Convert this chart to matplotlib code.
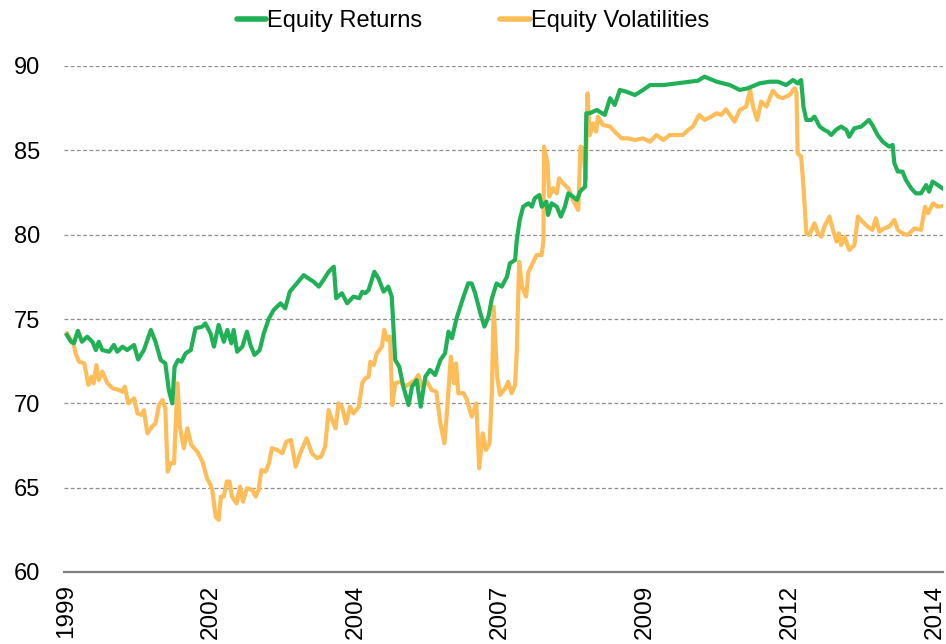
import matplotlib
matplotlib.use("Agg")
import matplotlib.pyplot as plt
from matplotlib.lines import Line2D

# ---- data (decimal years, index values) ----
ret_x = [1999.52, 1999.59, 1999.64, 1999.71, 1999.78, 1999.87, 1999.96, 2000.02, 2000.07, 2000.13,
         2000.25, 2000.33, 2000.39, 2000.48, 2000.56, 2000.68, 2000.75, 2000.85, 2000.97, 2001.05,
         2001.14, 2001.22, 2001.28, 2001.34, 2001.38, 2001.44, 2001.50, 2001.57, 2001.66, 2001.74,
         2001.86, 2001.91, 2002.00, 2002.06, 2002.14, 2002.23, 2002.29, 2002.36, 2002.40, 2002.46,
         2002.55, 2002.63, 2002.69, 2002.76, 2002.85, 2002.92, 2003.01, 2003.09, 2003.21, 2003.29,
         2003.37, 2003.49, 2003.61, 2003.69, 2003.78, 2003.87, 2003.95, 2004.04, 2004.13, 2004.17,
         2004.27, 2004.36, 2004.47, 2004.57, 2004.62, 2004.67, 2004.73, 2004.83, 2004.90, 2004.99,
         2005.07, 2005.13, 2005.19, 2005.26, 2005.33, 2005.42, 2005.48, 2005.56, 2005.63, 2005.71,
         2005.79, 2005.88, 2005.97, 2006.05, 2006.11, 2006.17, 2006.25, 2006.36, 2006.45, 2006.51,
         2006.57, 2006.66, 2006.73, 2006.80, 2006.86, 2006.94, 2007.03, 2007.12, 2007.17, 2007.26,
         2007.29, 2007.34, 2007.40, 2007.49, 2007.55, 2007.60, 2007.68, 2007.72, 2007.80, 2007.83,
         2007.89, 2007.98, 2008.05, 2008.12, 2008.18, 2008.26, 2008.33, 2008.38, 2008.47, 2008.49,
         2008.55, 2008.67, 2008.81, 2008.90, 2008.98, 2009.07, 2009.18, 2009.33, 2009.47, 2009.59,
         2009.82, 2010.05, 2010.28, 2010.42, 2010.53, 2010.74, 2010.97, 2011.14, 2011.28, 2011.48,
         2011.66, 2011.80, 2011.94, 2012.06, 2012.14, 2012.20, 2012.24, 2012.29, 2012.37, 2012.43,
         2012.52, 2012.60, 2012.66, 2012.72, 2012.80, 2012.89, 2012.98, 2013.03, 2013.12, 2013.24,
         2013.37, 2013.43, 2013.52, 2013.61, 2013.72, 2013.78, 2013.81, 2013.87, 2013.95, 2014.01,
         2014.10, 2014.18, 2014.27, 2014.36, 2014.41, 2014.47, 2014.56, 2014.64]
ret_y = [74.05, 73.66, 73.56, 74.30, 73.65, 73.95, 73.65, 73.16, 73.65, 73.16,
         73.06, 73.46, 73.06, 73.36, 73.16, 73.46, 72.60, 73.16, 74.35, 73.65,
         72.57, 72.37, 70.79, 70.00, 72.17, 72.57, 72.47, 72.96, 73.16, 74.45,
         74.55, 74.74, 74.15, 73.36, 74.65, 73.65, 74.35, 73.56, 74.35, 73.06,
         73.36, 74.25, 73.46, 72.87, 73.16, 74.15, 75.04, 75.53, 75.93, 75.63,
         76.62, 77.11, 77.60, 77.41, 77.21, 76.92, 77.31, 77.80, 78.10, 76.23,
         76.53, 75.93, 76.33, 76.23, 76.62, 76.53, 76.72, 77.80, 77.41, 76.62,
         76.92, 76.33, 72.57, 72.17, 70.99, 69.90, 70.99, 71.38, 69.80, 71.58,
         71.98, 71.68, 72.57, 72.96, 74.25, 73.86, 75.04, 76.23, 77.11, 77.11,
         76.53, 75.34, 74.55, 75.14, 76.23, 77.11, 76.92, 77.51, 78.30, 78.50,
         79.68, 80.87, 81.66, 81.86, 81.66, 82.16, 82.35, 81.66, 81.96, 81.17,
         81.86, 81.66, 81.07, 81.66, 82.45, 82.25, 82.06, 82.55, 82.85, 87.20,
         87.20, 87.39, 87.10, 88.09, 87.69, 88.58, 88.48, 88.28, 88.58, 88.87,
         88.87, 88.97, 89.07, 89.13, 89.37, 89.07, 88.87, 88.58, 88.68, 88.97,
         89.07, 89.07, 88.87, 89.17, 88.97, 89.17, 87.59, 86.80, 86.80, 87.00,
         86.41, 86.21, 86.11, 85.91, 86.21, 86.41, 86.21, 85.81, 86.31, 86.41,
         86.80, 86.50, 85.91, 85.51, 85.22, 85.32, 84.23, 83.74, 83.74, 83.24,
         82.75, 82.45, 82.45, 82.94, 82.55, 83.15, 82.94, 82.75]

vol_x = [1999.52, 1999.59, 1999.64, 1999.67, 1999.73, 1999.82, 1999.89, 1999.95, 1999.98, 2000.03,
         2000.07, 2000.13, 2000.22, 2000.31, 2000.42, 2000.48, 2000.52, 2000.58, 2000.68, 2000.74,
         2000.81, 2000.85, 2000.91, 2000.99, 2001.05, 2001.11, 2001.17, 2001.22, 2001.26, 2001.31,
         2001.37, 2001.43, 2001.47, 2001.54, 2001.60, 2001.67, 2001.77, 2001.86, 2001.94, 2002.00,
         2002.03, 2002.09, 2002.14, 2002.18, 2002.23, 2002.28, 2002.33, 2002.37, 2002.45, 2002.51,
         2002.56, 2002.63, 2002.72, 2002.78, 2002.83, 2002.88, 2002.95, 2003.01, 2003.06, 2003.15,
         2003.24, 2003.31, 2003.39, 2003.47, 2003.55, 2003.66, 2003.75, 2003.84, 2003.91, 2003.98,
         2004.04, 2004.10, 2004.16, 2004.21, 2004.27, 2004.34, 2004.41, 2004.47, 2004.56, 2004.62,
         2004.67, 2004.73, 2004.76, 2004.82, 2004.87, 2004.96, 2005.00, 2005.05, 2005.10, 2005.14,
         2005.19, 2005.28, 2005.36, 2005.45, 2005.53, 2005.59, 2005.65, 2005.74, 2005.82, 2005.90,
         2005.97, 2006.04, 2006.09, 2006.15, 2006.21, 2006.24, 2006.28, 2006.37, 2006.43, 2006.51,
         2006.59, 2006.64, 2006.70, 2006.76, 2006.82, 2006.86, 2006.89, 2006.95, 2007.00, 2007.09,
         2007.14, 2007.20, 2007.26, 2007.29, 2007.33, 2007.38, 2007.45, 2007.49, 2007.55, 2007.63,
         2007.72, 2007.75, 2007.76, 2007.82, 2007.85, 2007.92, 2007.98, 2008.02, 2008.09, 2008.18,
         2008.26, 2008.35, 2008.39, 2008.44, 2008.48, 2008.51, 2008.55, 2008.61, 2008.66, 2008.69,
         2008.78, 2008.90, 2008.98, 2009.10, 2009.21, 2009.33, 2009.47, 2009.59, 2009.70, 2009.82,
         2009.93, 2010.05, 2010.16, 2010.25, 2010.33, 2010.44, 2010.53, 2010.65, 2010.74, 2010.82,
         2010.90, 2010.97, 2011.05, 2011.14, 2011.25, 2011.32, 2011.37, 2011.44, 2011.51, 2011.60,
         2011.71, 2011.80, 2011.88, 2012.00, 2012.09, 2012.12, 2012.14, 2012.20, 2012.24, 2012.29,
         2012.34, 2012.43, 2012.49, 2012.55, 2012.60, 2012.69, 2012.75, 2012.81, 2012.85, 2012.89,
         2012.95, 2013.03, 2013.12, 2013.18, 2013.26, 2013.35, 2013.43, 2013.49, 2013.55, 2013.64,
         2013.72, 2013.81, 2013.87, 2013.95, 2014.04, 2014.16, 2014.27, 2014.34, 2014.39, 2014.48,
         2014.56, 2014.64]
vol_y = [74.15, 73.76, 73.46, 72.96, 72.47, 72.37, 71.09, 71.58, 71.19, 72.27,
         71.38, 71.88, 71.19, 70.89, 70.79, 70.69, 70.99, 70.00, 70.30, 69.40,
         69.31, 69.60, 68.22, 68.62, 68.81, 69.90, 70.20, 69.70, 65.95, 66.45,
         66.45, 71.19, 68.62, 67.34, 68.52, 67.53, 67.14, 66.55, 65.56, 65.16,
         64.87, 63.28, 63.08, 64.47, 64.47, 65.36, 65.36, 64.47, 64.07, 65.06,
         64.17, 64.96, 64.87, 64.47, 64.87, 66.05, 65.95, 66.45, 67.34, 67.24,
         67.04, 67.73, 67.83, 66.25, 67.04, 67.93, 67.04, 66.75, 66.84, 67.43,
         69.60, 69.01, 68.52, 70.00, 69.80, 68.81, 69.80, 69.40, 69.80, 71.19,
         71.48, 71.58, 72.47, 72.27, 72.96, 73.36, 74.35, 73.76, 73.96, 69.90,
         71.19, 71.28, 70.99, 71.19, 71.38, 71.68, 70.99, 71.28, 70.79, 70.69,
         68.81, 67.63, 69.80, 72.77, 71.19, 72.37, 70.60, 70.60, 70.20, 69.21,
         70.00, 66.15, 68.22, 67.24, 67.63, 70.79, 75.73, 71.58, 70.50, 70.89,
         71.28, 70.60, 71.09, 73.16, 78.40, 76.92, 76.33, 77.80, 78.20, 78.79,
         78.79, 79.68, 85.22, 84.23, 82.25, 82.75, 82.45, 83.34, 83.04, 82.75,
         82.06, 81.46, 85.22, 85.12, 83.24, 88.38, 85.91, 86.60, 86.11, 87.00,
         86.50, 86.41, 86.11, 85.71, 85.71, 85.61, 85.71, 85.51, 85.91, 85.61,
         85.91, 85.91, 85.91, 86.21, 86.41, 87.10, 86.80, 87.00, 87.20, 87.10,
         87.43, 87.10, 86.70, 87.39, 87.59, 88.58, 87.59, 86.80, 87.89, 87.59,
         88.54, 88.19, 88.09, 88.28, 88.68, 88.38, 84.82, 84.63, 82.85, 80.08,
         79.98, 80.67, 80.08, 79.88, 80.48, 81.07, 80.28, 79.59, 80.08, 79.39,
         79.88, 79.09, 79.39, 81.07, 80.77, 80.48, 80.28, 80.97, 80.18, 80.38,
         80.48, 80.87, 80.28, 80.08, 79.98, 80.38, 80.28, 81.66, 81.27, 81.86,
         81.66, 81.70]

tick_pos = [1999.5, 2002.0, 2004.5, 2007.0, 2009.5, 2012.0, 2014.5]
tick_labels = ["1999", "2002", "2004", "2007", "2009", "2012", "2014"]
y_ticks = [60, 65, 70, 75, 80, 85, 90]
series_names = ["Equity Returns", "Equity Volatilities"]

GREEN = "#20B157"
ORANGE = "#FFBD59"
NARROW = ["Liberation Sans Narrow", "Liberation Sans", "DejaVu Sans"]
REG = ["Liberation Sans", "DejaVu Sans"]

fig = plt.figure(figsize=(9.46, 6.44), dpi=100)
ax = fig.add_axes([64 / 946, 1 - 572 / 644, (943 - 64) / 946, (572 - 66) / 644])

ax.plot(ret_x, ret_y, color=GREEN, lw=3.0, solid_joinstyle="round", zorder=3)
ax.plot(vol_x, vol_y, color=ORANGE, lw=3.0, solid_joinstyle="round", zorder=2)

ax.set_xlim(1999.47, 2014.65)
ax.set_ylim(60, 90)
ax.set_yticks(y_ticks)
ax.set_yticklabels([str(v) for v in y_ticks], fontsize=17, family=NARROW)
ax.set_xticks(tick_pos)
ax.set_xticklabels(tick_labels, rotation=90, fontsize=17.5, family=REG)
ax.tick_params(axis="y", length=0, pad=17)
ax.tick_params(axis="x", length=0, pad=9)

for v in y_ticks[1:]:
    ax.axhline(v, color="#8c8c8c", lw=0.9, ls=(0, (3, 2)), zorder=1)

for s in ["top", "right", "left"]:
    ax.spines[s].set_visible(False)
ax.spines["bottom"].set_color("#808080")
ax.spines["bottom"].set_linewidth(1.6)

handles = [Line2D([0], [0], color=GREEN, lw=4, solid_capstyle="round"),
           Line2D([0], [0], color=ORANGE, lw=4, solid_capstyle="round")]
fig.legend(handles, series_names, loc="upper center", bbox_to_anchor=(0.5, 0.999),
           borderaxespad=0, ncol=2, frameon=False, handlelength=1.25, handletextpad=0.05,
           columnspacing=3.3, prop={"family": NARROW, "size": 17})

fig.savefig("out.png", dpi=100)
